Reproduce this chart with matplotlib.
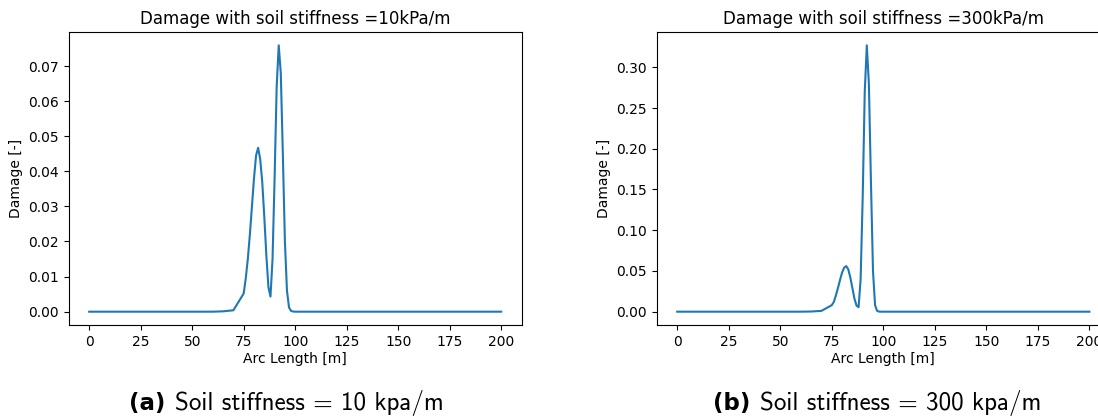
import numpy as np
import matplotlib
matplotlib.use("Agg")
import matplotlib.pyplot as plt

# Arc length stations [m]: coarse outside the damaged zone, 1 m within it
arc_coarse_left = [0, 5, 10, 15, 20, 25, 30, 35, 40, 45, 50, 55, 60, 65, 70]
arc_fine = [75, 76, 77, 78, 79, 80, 81, 82, 83, 84, 85, 86, 87, 88, 89, 90,
            91, 92, 93, 94, 95, 96, 97, 98, 99, 100]
arc_coarse_right = [105, 110, 115, 120, 125, 130, 135, 140, 145, 150, 155,
                    160, 165, 170, 175, 180, 185, 190, 195, 200]
arc_length = arc_coarse_left + arc_fine + arc_coarse_right

# Damage for soil stiffness 10 kPa/m
damage_10_left = [0, 0, 0, 0, 0, 0, 0, 0, 0, 0, 0, 0, 0, 0.0001, 0.0004]
damage_10_zone = [0.0052, 0.0095, 0.0150, 0.0220, 0.0300, 0.0380, 0.0445,
                  0.0467, 0.0435, 0.0370, 0.0270, 0.0160, 0.0070, 0.0043,
                  0.0150, 0.0380, 0.0640, 0.0759, 0.0680, 0.0450, 0.0200,
                  0.0060, 0.0012, 0.0002, 0.00005, 0]
damage_10_right = [0] * 20

# Damage for soil stiffness 300 kPa/m
damage_300_left = [0, 0, 0, 0, 0, 0, 0, 0, 0, 0, 0, 0, 0, 0.0002, 0.0010]
damage_300_zone = [0.0080, 0.0120, 0.0200, 0.0290, 0.0390, 0.0480, 0.0540,
                   0.0560, 0.0520, 0.0420, 0.0290, 0.0160, 0.0075, 0.0055,
                   0.0400, 0.1400, 0.2700, 0.3270, 0.2800, 0.1600, 0.0500,
                   0.0080, 0.0010, 0.0001, 0, 0]
damage_300_right = [0] * 20

damage_10 = damage_10_left + damage_10_zone + damage_10_right
damage_300 = damage_300_left + damage_300_zone + damage_300_right

titles = ["Damage with soil stiffness =10kPa/m",
          "Damage with soil stiffness =300kPa/m"]
caption_tags = ["(a)", "(b)"]
caption_texts = ["Soil stiffness = 10 kpa/m", "Soil stiffness = 300 kpa/m"]

W, H = 1098, 419
fig = plt.figure(figsize=(W / 100, H / 100), dpi=100)

axes_boxes = [(68.6, 521.8), (656.6, 1110.0)]
top_px, bottom_px = 32, 325
series = [damage_10, damage_300]

for (x0, x1), y, title in zip(axes_boxes, series, titles):
    ax = fig.add_axes([x0 / W, 1 - bottom_px / H, (x1 - x0) / W,
                       (bottom_px - top_px) / H])
    ax.plot(arc_length, y, color="#1f77b4", lw=1.5)
    ax.set_title(title, fontsize=12)
    ax.set_xlabel("Arc Length [m]", fontsize=10, labelpad=2)
    ax.set_ylabel("Damage [-]", fontsize=10)
    ax.set_xticks(np.arange(0, 201, 25))
    ax.tick_params(labelsize=10)

fig.canvas.draw()
renderer = fig.canvas.get_renderer()

# Sub-figure captions: bold tag followed by the description
caption_centers = [286.5, 877]
for cx, tag, txt in zip(caption_centers, caption_tags, caption_texts):
    t1 = fig.text(0, 0, tag, fontsize=16.5, fontweight="bold",
                  family="DejaVu Sans")
    t2 = fig.text(0, 0, txt, fontsize=18, family="cmss10")
    w1 = t1.get_window_extent(renderer).width
    w2 = t2.get_window_extent(renderer).width
    gap = 10
    total = w1 + gap + w2
    left = cx - total / 2
    ybase = 1 - 410 / H
    t1.set_position((left / W, ybase))
    t2.set_position(((left + w1 + gap) / W, ybase))

fig.savefig("out.png", dpi=100)
